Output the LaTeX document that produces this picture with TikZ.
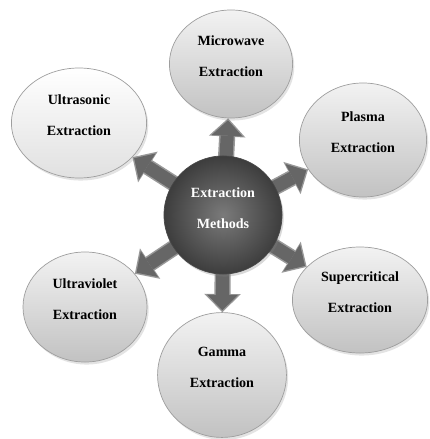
\documentclass[tikz,border=0pt]{standalone}
\usepackage{fontspec}
\setmainfont{Liberation Serif}
\usetikzlibrary{arrows.meta,shapes.geometric,shadows,backgrounds}

\tikzset{
  method/.style={ellipse, draw=black!38, line width=0.5pt, inner sep=0pt,
    top color=black!5, bottom color=black!24, text depth=11pt,
    drop shadow={shadow xshift=1.2pt, shadow yshift=-1.8pt, opacity=0.22},
    font=\fontsize{10}{22}\selectfont\bfseries, align=center},
  hub/.style={circle, draw=black!72, line width=0.5pt, inner sep=0pt,
    minimum size=2.95cm, inner color=black!52, outer color=black!76,
    text depth=10pt,
    drop shadow={shadow xshift=1.2pt, shadow yshift=-1.8pt, opacity=0.3},
    text=white, font=\fontsize{10}{22}\selectfont\bfseries, align=center},
  arrowrim/.style={draw=black!40, line width=11.5pt,
    -{Triangle[length=13pt,width=26pt,line width=0pt]}},
  arrowfill/.style={draw=black!60, line width=9.3pt, shorten >=1.4pt,
    -{Triangle[length=11pt,width=22pt,line width=0pt]}}
}

\begin{document}
\begin{tikzpicture}[x=0.025cm, y=-0.025cm]
  \useasboundingbox (0,0) rectangle (429,439);

  % outer methods
  \node[method, top color=white, bottom color=black!12,
        minimum width=3.38cm, minimum height=2.75cm] (us) at (79,123) {Ultrasonic\\Extraction};
  \node[method, minimum width=3.08cm, minimum height=2.7cm] (mw) at (231,64) {Microwave\\Extraction};
  \node[method, minimum width=3.18cm, minimum height=2.85cm] (pl) at (363,140) {Plasma\\Extraction};
  \node[method, minimum width=3.38cm, minimum height=2.65cm] (sc) at (360,300) {Supercritical\\Extraction};
  \node[method, minimum width=3.1cm, minimum height=2.75cm] (uv) at (85,307) {Ultraviolet\\Extraction};
  \node[method, minimum width=3.22cm, minimum height=3.12cm] (gm) at (222,375) {Gamma\\Extraction};

  % centre
  \node[hub] (c) at (223,215) {Extraction\\Methods};

  % arrows
  \begin{pgfonlayer}{background}
    \foreach \t in {us,mw,pl,sc,gm,uv} {
      \draw[arrowrim] (c.center) -- (\t);
      \draw[arrowfill] (c.center) -- (\t);
    }
  \end{pgfonlayer}
\end{tikzpicture}
\end{document}
